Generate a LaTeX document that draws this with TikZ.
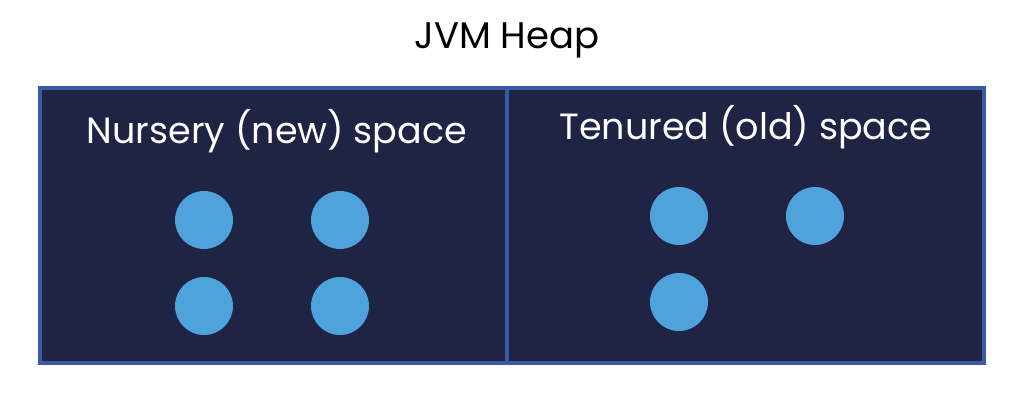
\documentclass[tikz,border=0pt]{standalone}
\usepackage{fontspec}
\setmainfont{Poppins}
\definecolor{heapfill}{HTML}{1F2344}
\definecolor{heapline}{HTML}{3A5AA8}
\definecolor{objblue}{HTML}{4FA3DC}
\tikzset{
  space/.style={draw=heapline, line width=3.5pt, fill=heapfill},
  obj/.style={circle, fill=objblue, minimum size=58pt, inner sep=0pt},
  lbl/.style={text=white, font=\fontsize{36.5}{40}\selectfont, inner sep=0pt},
}
\begin{document}
\begin{tikzpicture}[x=1pt,y=-1pt]
\useasboundingbox (0,0) rectangle (1024,402);
\node[font=\fontsize{37}{42}\selectfont, inner sep=0pt] (title) at (507,40) {JVM Heap};
\draw[space] (40,88) rectangle (507,363);
\draw[space] (507,88) rectangle (984,363);
\node[lbl] (nursery) at (277,131) {Nursery (new) space};
\node[lbl] (tenured) at (746,127) {Tenured (old) space};
\node[obj] (n1) at (204,220) {};
\node[obj] (n2) at (340,220) {};
\node[obj] (n3) at (204,306) {};
\node[obj] (n4) at (340,306) {};
\node[obj] (t1) at (679,216) {};
\node[obj] (t2) at (815,216) {};
\node[obj] (t3) at (679,302) {};
\end{tikzpicture}
\end{document}
